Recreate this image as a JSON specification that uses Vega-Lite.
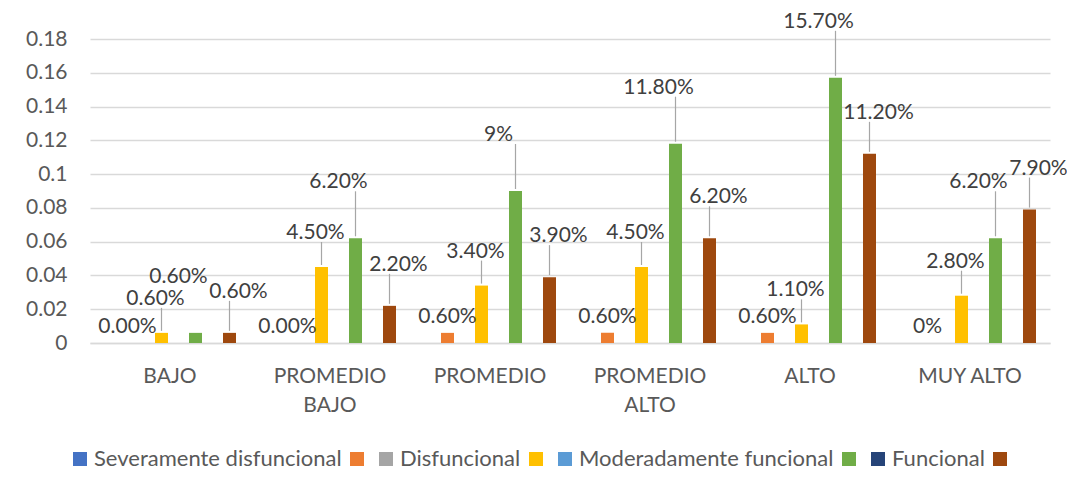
{
  "$schema": "https://vega.github.io/schema/vega-lite/v6.json",
  "width": 960,
  "height": 304,
  "autosize": {"type": "none"},
  "padding": {"left": 90, "top": 39, "right": 17, "bottom": 147},
  "background": "white",
  "config": {"font": "Lato", "view": {"stroke": null}},
  "data": {
    "values": [
      {"nivel": "BAJO", "serie": "s2", "valor": 0, "etiqueta": "0.00%"},
      {"nivel": "BAJO", "serie": "s4", "valor": 0.006, "etiqueta": "0.60%"},
      {"nivel": "BAJO", "serie": "s6", "valor": 0.006, "etiqueta": "0.60%"},
      {"nivel": "BAJO", "serie": "s8", "valor": 0.006, "etiqueta": "0.60%"},
      {"nivel": "PROMEDIO BAJO", "serie": "s2", "valor": 0, "etiqueta": "0.00%"},
      {"nivel": "PROMEDIO BAJO", "serie": "s4", "valor": 0.045, "etiqueta": "4.50%"},
      {"nivel": "PROMEDIO BAJO", "serie": "s6", "valor": 0.062, "etiqueta": "6.20%"},
      {"nivel": "PROMEDIO BAJO", "serie": "s8", "valor": 0.022, "etiqueta": "2.20%"},
      {"nivel": "PROMEDIO", "serie": "s2", "valor": 0.006, "etiqueta": "0.60%"},
      {"nivel": "PROMEDIO", "serie": "s4", "valor": 0.034, "etiqueta": "3.40%"},
      {"nivel": "PROMEDIO", "serie": "s6", "valor": 0.09, "etiqueta": "9%"},
      {"nivel": "PROMEDIO", "serie": "s8", "valor": 0.039, "etiqueta": "3.90%"},
      {"nivel": "PROMEDIO ALTO", "serie": "s2", "valor": 0.006, "etiqueta": "0.60%"},
      {"nivel": "PROMEDIO ALTO", "serie": "s4", "valor": 0.045, "etiqueta": "4.50%"},
      {"nivel": "PROMEDIO ALTO", "serie": "s6", "valor": 0.118, "etiqueta": "11.80%"},
      {"nivel": "PROMEDIO ALTO", "serie": "s8", "valor": 0.062, "etiqueta": "6.20%"},
      {"nivel": "ALTO", "serie": "s2", "valor": 0.006, "etiqueta": "0.60%"},
      {"nivel": "ALTO", "serie": "s4", "valor": 0.011, "etiqueta": "1.10%"},
      {"nivel": "ALTO", "serie": "s6", "valor": 0.157, "etiqueta": "15.70%"},
      {"nivel": "ALTO", "serie": "s8", "valor": 0.112, "etiqueta": "11.20%"},
      {"nivel": "MUY ALTO", "serie": "s2", "valor": 0, "etiqueta": "0%"},
      {"nivel": "MUY ALTO", "serie": "s4", "valor": 0.028, "etiqueta": "2.80%"},
      {"nivel": "MUY ALTO", "serie": "s6", "valor": 0.062, "etiqueta": "6.20%"},
      {"nivel": "MUY ALTO", "serie": "s8", "valor": 0.079, "etiqueta": "7.90%"}
    ]
  },
  "encoding": {
    "x": {
      "field": "nivel",
      "type": "nominal",
      "sort": ["BAJO", "PROMEDIO BAJO", "PROMEDIO", "PROMEDIO ALTO", "ALTO", "MUY ALTO"],
      "scale": {"paddingInner": 0.15, "paddingOuter": 0.075},
      "axis": {
        "title": null,
        "labelAngle": 0,
        "labelFontSize": 21,
        "labelColor": "#595959",
        "labelPadding": 22,
        "labelLineHeight": 29,
        "labelExpr": "datum.label == 'MUY ALTO' ? datum.label : split(datum.label, ' ')",
        "domainColor": "#D9D9D9",
        "domainWidth": 1.3,
        "ticks": false,
        "grid": false
      }
    },
    "xOffset": {
      "field": "serie",
      "type": "nominal",
      "scale": {
        "domain": ["Severamente disfuncional", "s2", "Disfuncional", "s4", "Moderadamente funcional", "s6", "Funcional", "s8"],
        "paddingInner": 0.235,
        "paddingOuter": 0.1176
      }
    },
    "y": {
      "field": "valor",
      "type": "quantitative",
      "scale": {"domain": [0, 0.18], "nice": false},
      "axis": {
        "title": null,
        "values": [0, 0.02, 0.04, 0.06, 0.08, 0.1, 0.12, 0.14, 0.16, 0.18],
        "format": "~g",
        "labelFontSize": 21,
        "labelColor": "#595959",
        "labelPadding": 23,
        "domain": false,
        "ticks": false,
        "gridColor": "#D9D9D9",
        "gridWidth": 1.3
      }
    }
  },
  "layer": [
    {
      "mark": {"type": "bar"},
      "encoding": {
        "color": {
          "field": "serie",
          "type": "nominal",
          "scale": {
            "domain": ["Severamente disfuncional", "s2", "Disfuncional", "s4", "Moderadamente funcional", "s6", "Funcional", "s8"],
            "range": ["#4472C4", "#ED7D31", "#A5A5A5", "#FFC000", "#5B9BD5", "#70AD47", "#264478", "#9E480E"]
          },
          "legend": {
            "orient": "none",
            "legendX": -21,
            "legendY": 409,
            "direction": "horizontal",
            "title": null,
            "labelExpr": "length(datum.label) < 3 ? '' : datum.label",
            "symbolType": "square",
            "symbolSize": 196,
            "symbolStrokeWidth": 0,
            "labelFontSize": 22,
            "labelColor": "#595959",
            "labelLimit": 400,
            "labelOffset": 3,
            "columnPadding": 4
          }
        }
      }
    },
    {
      "transform": [{"filter": "datum.serie == 's4'"}],
      "mark": {"type": "rule", "color": "#A6A6A6", "strokeWidth": 1.2, "yOffset": -2, "y2Offset": -25},
      "encoding": {"y2": {"field": "valor"}}
    },
    {
      "transform": [{"filter": "datum.serie == 's6' && datum.valor > 0.015"}],
      "mark": {"type": "rule", "color": "#A6A6A6", "strokeWidth": 1.2, "yOffset": -2, "y2Offset": -47},
      "encoding": {"y2": {"field": "valor"}}
    },
    {
      "transform": [{"filter": "datum.serie == 's8'"}],
      "mark": {"type": "rule", "color": "#A6A6A6", "strokeWidth": 1.2, "yOffset": -2, "y2Offset": -32},
      "encoding": {"y2": {"field": "valor"}}
    },
    {
      "transform": [{"filter": "datum.serie == 's2'"}],
      "mark": {"type": "text", "fontSize": 21, "color": "#404040", "baseline": "middle", "dy": -16},
      "encoding": {"text": {"field": "etiqueta"}}
    },
    {
      "transform": [{"filter": "datum.serie == 's4'"}],
      "mark": {"type": "text", "fontSize": 21, "color": "#404040", "baseline": "middle", "dy": -34, "dx": -6},
      "encoding": {"text": {"field": "etiqueta"}}
    },
    {
      "transform": [{"filter": "datum.serie == 's6'"}],
      "mark": {"type": "text", "fontSize": 21, "color": "#404040", "baseline": "middle", "dy": -56, "dx": -17},
      "encoding": {"text": {"field": "etiqueta"}}
    },
    {
      "transform": [{"filter": "datum.serie == 's8'"}],
      "mark": {"type": "text", "fontSize": 21, "color": "#404040", "baseline": "middle", "dy": -41, "dx": 9},
      "encoding": {"text": {"field": "etiqueta"}}
    }
  ]
}
